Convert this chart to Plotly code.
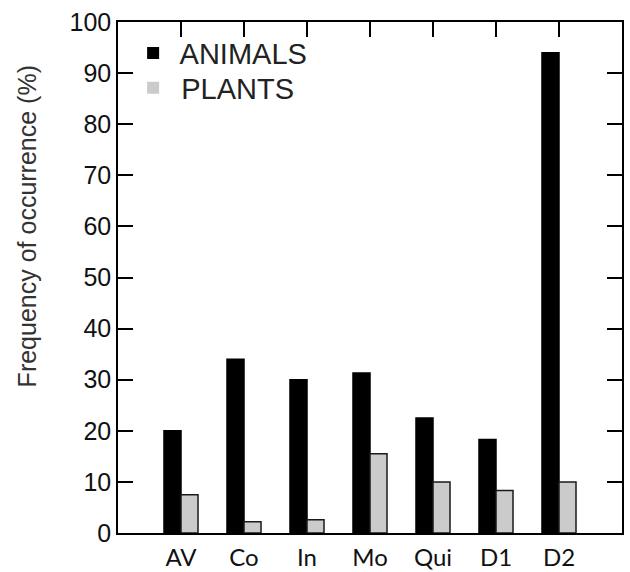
import plotly.graph_objects as go

categories = ["AV", "Co", "In", "Mo", "Qui", "D1", "D2"]
animals = [20, 34, 30, 31.3, 22.5, 18.3, 94]
plants = [7.5, 2.2, 2.6, 15.5, 10, 8.3, 10]
y_ticks = list(range(0, 101, 10))
series_names = ["ANIMALS", "PLANTS"]
series_colors = ["#000000", "#cbcbcb"]

idx = list(range(len(categories)))

fig = go.Figure()
fig.add_trace(go.Bar(
    x=idx, y=animals, name=series_names[0], width=0.27, offset=-0.27,
    marker=dict(color=series_colors[0], line=dict(color="#000000", width=1.5)),
    showlegend=False,
))
fig.add_trace(go.Bar(
    x=idx, y=plants, name=series_names[1], width=0.27, offset=0,
    marker=dict(color=series_colors[1], line=dict(color="#1a1a1a", width=1.5)),
    showlegend=False,
))
# legend entries (square swatches without outline), one legend per row
for nm, col, lg in zip(series_names, series_colors, ["legend", "legend2"]):
    fig.add_trace(go.Scatter(
        x=[None], y=[None], mode="markers", name=" " + nm, legend=lg,
        marker=dict(symbol="square", size=15, color=col, line=dict(width=0)),
    ))
# invisible trace to drive the top tick axis
fig.add_trace(go.Scatter(x=idx, y=[0]*len(idx), xaxis="x2", mode="markers",
                         marker=dict(opacity=0), showlegend=False, hoverinfo="skip"))

legend_style = dict(xanchor="left", yanchor="middle",
                    font=dict(family="Liberation Sans", size=29, color="#222222"),
                    bgcolor="rgba(0,0,0,0)", itemsizing="constant")

fig.update_layout(
    width=630, height=572,
    margin=dict(l=118, r=8, t=22, b=39),
    paper_bgcolor="white", plot_bgcolor="white",
    barmode="overlay",
    showlegend=True,
    legend=dict(x=0.03, y=0.939, **legend_style),
    legend2=dict(x=0.03, y=0.871, **legend_style),
    xaxis=dict(range=[-1, 7], tickvals=idx, ticktext=categories,
               showline=True, linecolor="black", linewidth=1.5, mirror=True,
               ticks="", showgrid=False, zeroline=False, ticklabelstandoff=2,
               automargin=False,
               tickfont=dict(family="Lato", size=24, color="#111111")),
    xaxis2=dict(range=[-1, 7], overlaying="x", side="top", anchor="y",
                tickvals=idx, ticks="inside", ticklen=15, tickwidth=1.5,
                tickcolor="black", showticklabels=False, showgrid=False,
                zeroline=False, showline=False, automargin=False),
    yaxis=dict(range=[0, 100], tickvals=y_ticks, ticks="inside", ticklen=15,
               tickwidth=1.5, tickcolor="black", mirror="ticks",
               showline=True, linecolor="black", linewidth=1.5,
               showgrid=False, zeroline=False, automargin=False,
               tickfont=dict(family="Liberation Sans", size=25, color="#111111")),
    annotations=[dict(
        text="Frequency of occurrence (%)", textangle=-90,
        xref="paper", yref="paper", x=-0.1806, y=0.60,
        xanchor="center", yanchor="middle", showarrow=False,
        font=dict(family="Liberation Sans", size=25, color="#333333"),
    )],
)

fig.write_html("out.html")
